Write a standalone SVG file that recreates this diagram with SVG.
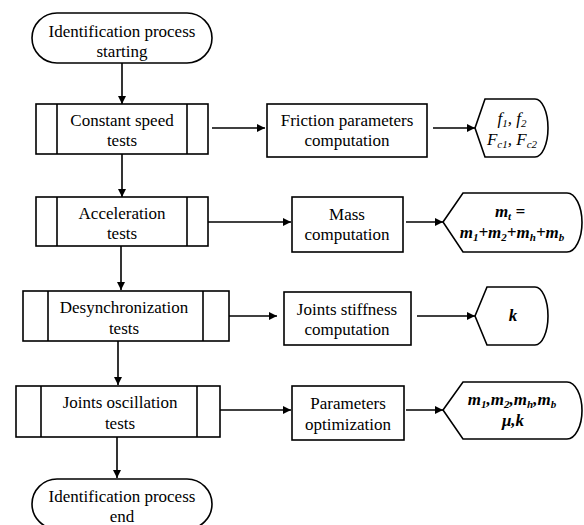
<svg xmlns="http://www.w3.org/2000/svg" width="584" height="525" viewBox="0 0 584 525">
<style>
.s{fill:#fff;stroke:#000;stroke-width:1.6}
.l{fill:none;stroke:#000;stroke-width:1.6}
.t{font-size:17px;text-anchor:middle;fill:#000}
.m{font-size:17px;text-anchor:middle;fill:#000;font-style:italic}
.b{font-weight:bold}
</style>
<defs>
<marker id="a" viewBox="0 0 10 10" refX="10" refY="5" markerWidth="5" markerHeight="5" orient="auto" markerUnits="strokeWidth"><path d="M0,0L10,5L0,10z" fill="#000"/></marker>
</defs>
<g id="connectors">
<line class="l" x1="122" y1="63" x2="122" y2="104" marker-end="url(#a)"/>
<line class="l" x1="212" y1="128" x2="265" y2="128" marker-end="url(#a)"/>
<line class="l" x1="433" y1="128" x2="475" y2="128" marker-end="url(#a)"/>
<line class="l" x1="122" y1="154" x2="122" y2="197" marker-end="url(#a)"/>
<line class="l" x1="208" y1="222" x2="291" y2="222" marker-end="url(#a)"/>
<line class="l" x1="406" y1="222" x2="443" y2="222" marker-end="url(#a)"/>
<line class="l" x1="121" y1="246" x2="121" y2="290" marker-end="url(#a)"/>
<line class="l" x1="229" y1="316" x2="277" y2="316" marker-end="url(#a)"/>
<line class="l" x1="417" y1="316" x2="475" y2="316" marker-end="url(#a)"/>
<line class="l" x1="118" y1="341" x2="118" y2="385" marker-end="url(#a)"/>
<line class="l" x1="220" y1="410" x2="291" y2="410" marker-end="url(#a)"/>
<line class="l" x1="406" y1="410" x2="443" y2="410" marker-end="url(#a)"/>
<line class="l" x1="117" y1="437" x2="117" y2="478" marker-end="url(#a)"/>
</g>
<g font-family="'Liberation Serif', 'Times New Roman', serif">
<g id="start">
<rect class="s" x="32" y="13" width="180" height="50" rx="25" ry="25"/>
<text class="t" x="122" y="37">Identification process</text>
<text class="t" x="122" y="57">starting</text>
</g>
<g id="constant">
<rect class="s" x="36" y="104" width="172" height="50"/>
<line class="l" x1="57" y1="104" x2="57" y2="154"/>
<line class="l" x1="187" y1="104" x2="187" y2="154"/>
<text class="t" x="122" y="126">Constant speed</text>
<text class="t" x="122" y="146">tests</text>
</g>
<g id="friction">
<rect class="s" x="267" y="104" width="160" height="53"/>
<text class="t" x="347" y="126">Friction parameters</text>
<text class="t" x="347" y="146">computation</text>
</g>
<g id="out1">
<path class="s" d="M475,128L485,99L535,99A13,29 0 0 1 535,157L485,157Z"/>
<text class="m" x="512" y="124">f<tspan dy="3" font-size="11">1</tspan><tspan dy="-3">, f</tspan><tspan dy="3" font-size="11">2</tspan></text>
<text class="m" x="512" y="145">F<tspan dy="3" font-size="11">c1</tspan><tspan dy="-3">, F</tspan><tspan dy="3" font-size="11">c2</tspan></text>
</g>
<g id="accel">
<rect class="s" x="36" y="197" width="172" height="49"/>
<line class="l" x1="57" y1="197" x2="57" y2="246"/>
<line class="l" x1="187" y1="197" x2="187" y2="246"/>
<text class="t" x="122" y="219">Acceleration</text>
<text class="t" x="122" y="239">tests</text>
</g>
<g id="mass">
<rect class="s" x="292" y="197" width="111" height="55"/>
<text class="t" x="347" y="220">Mass</text>
<text class="t" x="347" y="240">computation</text>
</g>
<g id="out2">
<path class="s" d="M443,222L463,193L567,193A15,29.5 0 0 1 567,252L463,252Z"/>
<text class="m b" x="510" y="217">m<tspan dy="3" font-size="11">t</tspan><tspan dy="-3"> =</tspan></text>
<text class="m b" x="512" y="238">m<tspan dy="3" font-size="11">1</tspan><tspan dy="-3">+m</tspan><tspan dy="3" font-size="11">2</tspan><tspan dy="-3">+m</tspan><tspan dy="3" font-size="11">h</tspan><tspan dy="-3">+m</tspan><tspan dy="3" font-size="11">b</tspan></text>
</g>
<g id="desync">
<rect class="s" x="23" y="291" width="206" height="50"/>
<line class="l" x1="48" y1="291" x2="48" y2="341"/>
<line class="l" x1="203" y1="291" x2="203" y2="341"/>
<text class="t" x="124" y="313">Desynchronization</text>
<text class="t" x="124" y="334">tests</text>
</g>
<g id="stiffness">
<rect class="s" x="284" y="292" width="127" height="53"/>
<text class="t" x="347" y="315">Joints stiffness</text>
<text class="t" x="347" y="335">computation</text>
</g>
<g id="out3">
<path class="s" d="M475,316L487,287L535,287A13,29 0 0 1 535,345L487,345Z"/>
<text class="m b" x="513" y="321">k</text>
</g>
<g id="oscillation">
<rect class="s" x="16" y="386" width="204" height="51"/>
<line class="l" x1="41" y1="386" x2="41" y2="437"/>
<line class="l" x1="197" y1="386" x2="197" y2="437"/>
<text class="t" x="120" y="408">Joints oscillation</text>
<text class="t" x="120" y="429">tests</text>
</g>
<g id="params">
<rect class="s" x="292" y="386" width="112" height="54"/>
<text class="t" x="348" y="409">Parameters</text>
<text class="t" x="348" y="430">optimization</text>
</g>
<g id="out4">
<path class="s" d="M443,410L463,382L567,382A15,28.5 0 0 1 567,439L463,439Z"/>
<text class="m b" x="512" y="405">m<tspan dy="3" font-size="11">1</tspan><tspan dy="-3">,m</tspan><tspan dy="3" font-size="11">2</tspan><tspan dy="-3">,m</tspan><tspan dy="3" font-size="11">h</tspan><tspan dy="-3">,m</tspan><tspan dy="3" font-size="11">b</tspan></text>
<text class="m b" x="513" y="426">μ,k</text>
</g>
<g id="end">
<rect class="s" x="32" y="479" width="180" height="50" rx="25" ry="25"/>
<text class="t" x="122" y="502">Identification process</text>
<text class="t" x="122" y="522">end</text>
</g>
</g>
</svg>
